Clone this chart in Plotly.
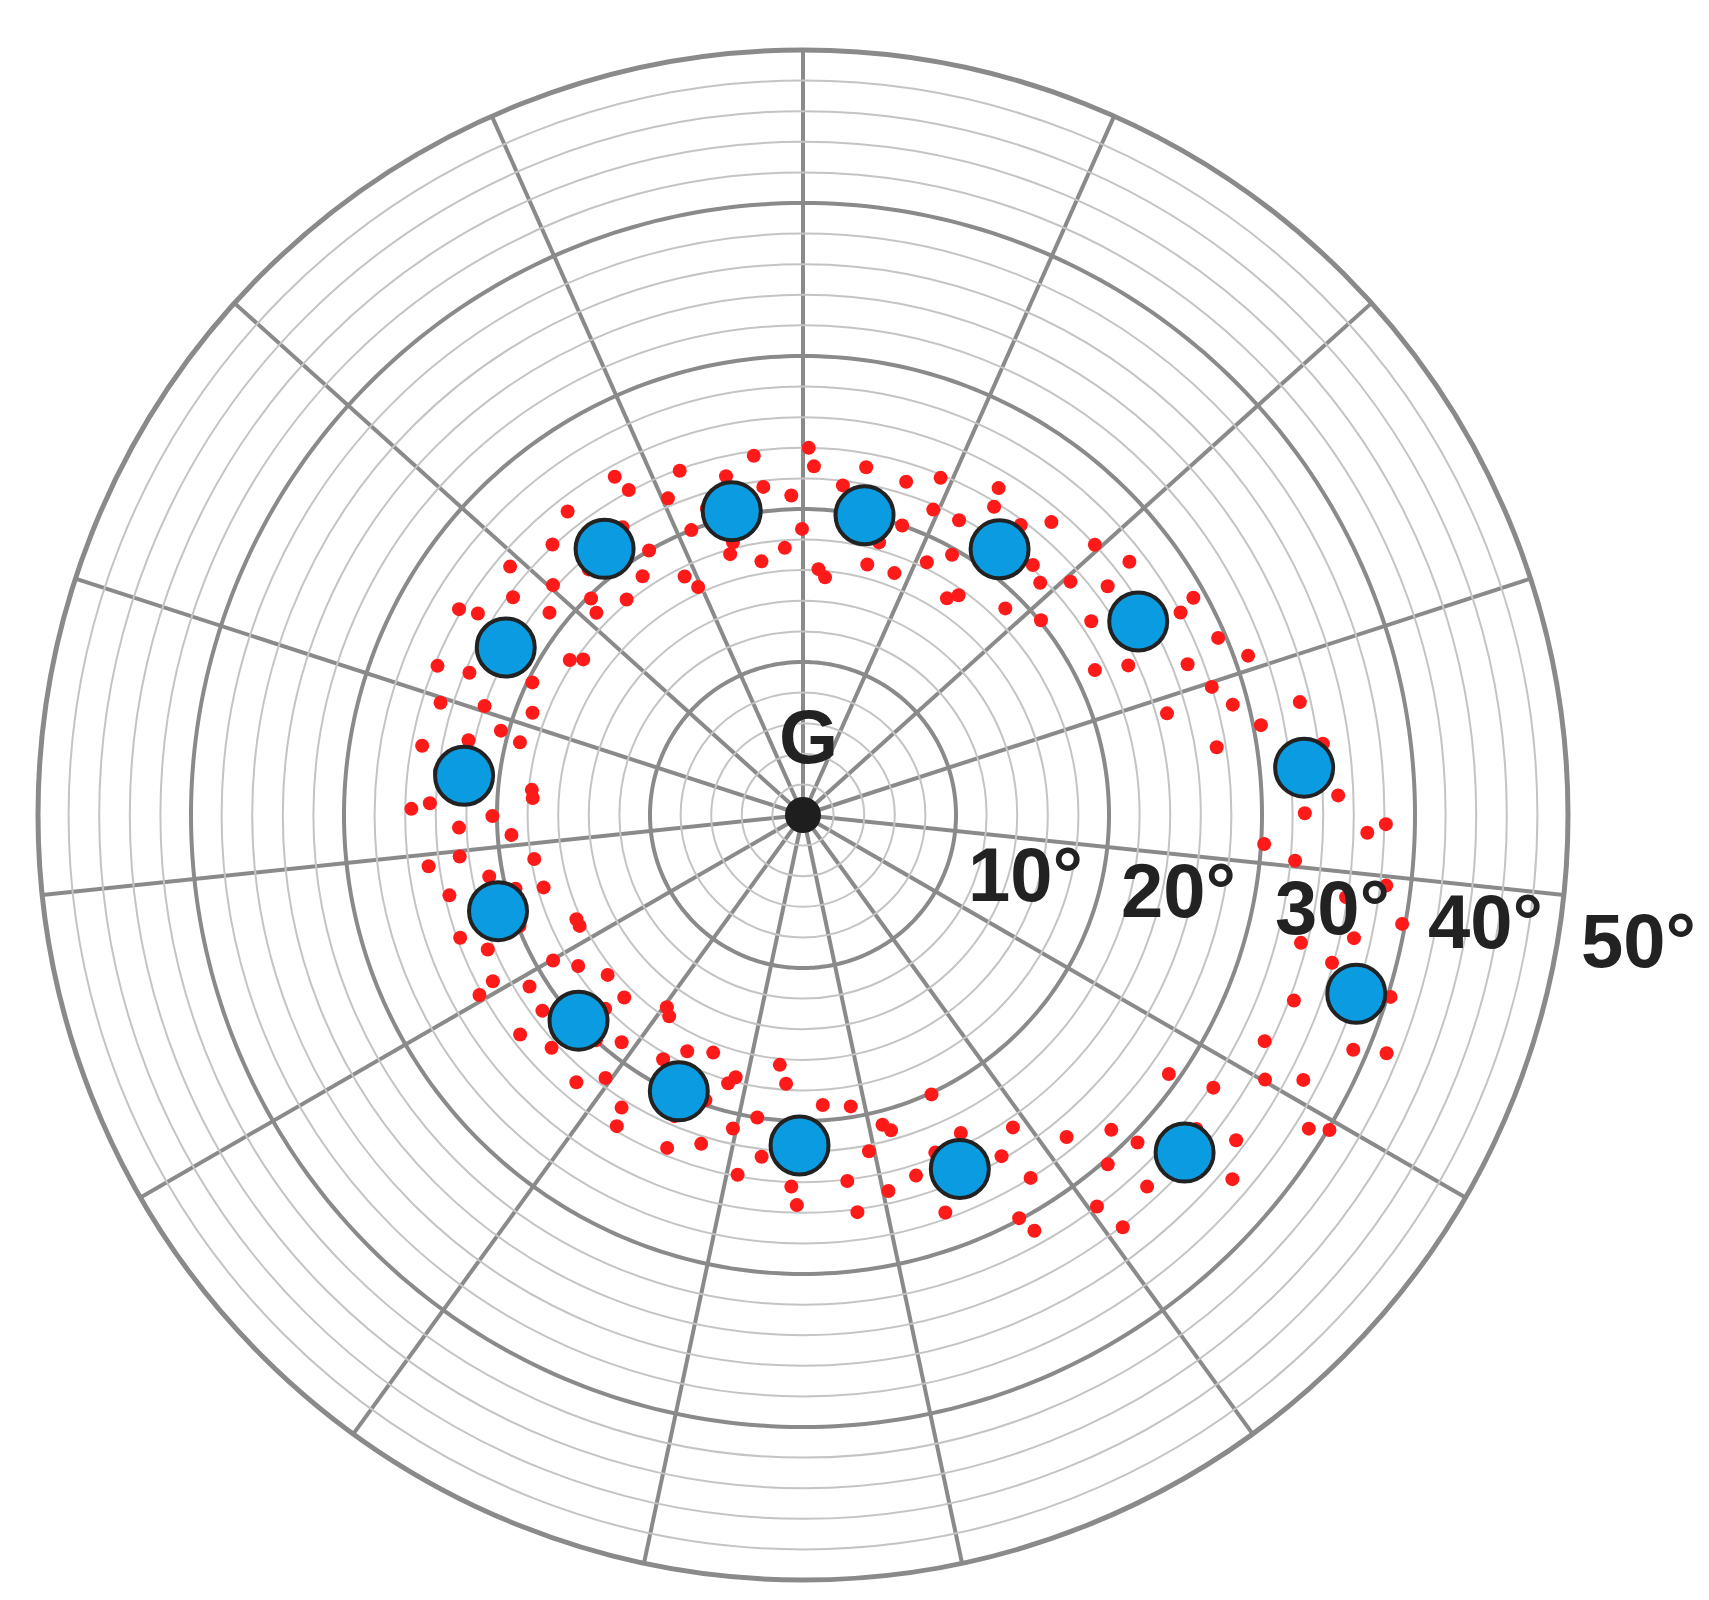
import numpy as np
import plotly.graph_objects as go

# blue mean points (theta in degrees, r in degrees of tilt)
blue_theta = [103.2, 78.4, 53.5, 30.0, 5.4, -17.9, -41.5, -66.1, -90.6, -114.2, -137.5, -162.5, 173.4, 150.6, 126.7]
blue_r = [20.4, 20.0, 21.6, 25.3, 32.9, 38.0, 33.3, 25.3, 21.6, 19.8, 19.9, 20.9, 22.3, 22.3, 21.7]

# red individual readings, row by row going round the ring
red_theta = [
    176.4, 178.2, 180.2, 182.1, 183.9, 179.1,
    165.6, 167.4, 169.7, 171.4, 173.1, 174.7,
    156.9, 159.3, 161.1, 162.8, 164.4, 157.8,
    146.4, 148.2, 150.2, 152.1, 153.9, 149.1,
    135.6, 137.4, 139.7, 141.4, 143.1, 144.7,
    126.9, 129.3, 131.1, 132.8, 134.4, 127.8,
    116.4, 118.2, 120.2, 122.1, 123.9, 119.1,
    105.6, 107.4, 109.7, 111.4, 113.1, 114.7,
    96.9, 99.3, 101.1, 102.8, 104.4, 97.8,
    86.4, 88.2, 90.2, 92.1, 93.9, 89.1,
    75.6, 77.4, 79.7, 81.4, 83.1, 84.7,
    66.9, 69.3, 71.1, 72.8, 74.4, 67.8,
    56.4, 58.2, 60.2, 62.1, 63.9, 59.1,
    45.6, 47.4, 49.7, 51.4, 53.1, 54.7,
    36.9, 39.3, 41.1, 42.8, 44.4, 37.8,
    26.4, 28.2, 30.2, 32.1, 33.9, 29.1,
    15.6, 17.4, 19.7, 21.4, 23.1, 24.7,
    6.9, 9.3, 11.1, 12.8, 14.4, 7.8,
    -3.6, -1.8, 0.2, 2.1, 3.9, -0.9,
    -14.4, -12.6, -10.3, -8.6, -6.9, -5.3,
    -23.1, -20.7, -18.9, -17.2, -15.6, -22.2,
    -33.6, -31.8, -29.8, -27.9, -26.1, -30.9,
    -44.4, -42.6, -40.3, -38.6, -36.9, -35.3,
    -53.1, -50.7, -48.9, -47.2, -45.6, -52.2,
    -63.6, -61.8, -59.8, -57.9, -56.1, -60.9,
    -74.4, -72.6, -70.3, -68.6, -66.9, -65.3,
    -83.1, -80.7, -78.9, -77.2, -75.6, -82.2,
    -93.6, -91.8, -89.8, -87.9, -86.1, -90.9,
    -104.4, -102.6, -100.3, -98.6, -96.9, -95.3,
    -113.1, -110.7, -108.9, -107.2, -105.6, -112.2,
    -123.6, -121.8, -119.8, -117.9, -116.1, -120.9,
    -134.4, -132.6, -130.3, -128.6, -126.9, -125.3,
    -143.1, -140.7, -138.9, -137.2, -135.6, -142.2,
    -153.6, -151.8, -149.8, -147.9, -146.1, -150.9,
    -164.4, -162.6, -160.3, -158.6, -156.9, -155.3,
    -173.1, -170.7, -168.9, -167.2, -165.6, -172.2,
]
red_r = [
    17.7, 24.4, 20.3, 22.5, 19.1, 25.6,
    19.1, 22.4, 25.3, 21.4, 23.9, 17.8,
    23.7, 18.9, 22.0, 24.8, 20.5, 25.8,
    18.3, 25.0, 20.9, 23.1, 19.7, 26.2,
    18.9, 22.2, 25.1, 21.2, 23.7, 17.6,
    23.0, 18.2, 21.3, 24.1, 19.8, 25.1,
    17.4, 24.1, 20.0, 22.2, 18.8, 25.3,
    17.7, 21.0, 23.9, 20.0, 22.5, 16.4,
    21.6, 16.8, 19.9, 22.7, 18.4, 23.7,
    16.1, 22.8, 18.7, 20.9, 17.5, 24.0,
    16.9, 20.2, 23.1, 19.2, 21.7, 15.6,
    21.7, 16.9, 20.0, 22.8, 18.5, 23.8,
    17.0, 23.7, 19.6, 21.8, 18.4, 24.9,
    18.9, 22.2, 25.1, 21.2, 23.7, 17.6,
    24.9, 20.1, 23.2, 26.0, 21.7, 27.0,
    21.3, 28.0, 23.9, 26.1, 22.7, 29.2,
    24.7, 28.0, 30.9, 27.0, 29.5, 23.4,
    32.2, 27.4, 30.5, 33.3, 29.0, 34.3,
    30.2, 36.9, 32.8, 35.0, 31.6, 38.1,
    33.6, 36.9, 39.8, 35.9, 38.4, 32.3,
    39.1, 34.3, 37.4, 40.2, 35.9, 41.2,
    32.2, 38.9, 34.8, 37.0, 33.6, 40.1,
    30.6, 33.9, 36.8, 32.9, 35.4, 29.3,
    32.0, 27.2, 30.3, 33.1, 28.8, 34.1,
    23.2, 29.9, 25.8, 28.0, 24.6, 31.1,
    21.4, 24.7, 27.6, 23.7, 26.2, 20.1,
    24.1, 19.3, 22.4, 25.2, 20.9, 26.2,
    17.6, 24.3, 20.2, 22.4, 19.0, 25.5,
    17.7, 21.0, 23.9, 20.0, 22.5, 16.4,
    21.4, 16.6, 19.7, 22.5, 18.2, 23.5,
    15.8, 22.5, 18.4, 20.6, 17.2, 23.7,
    16.7, 20.0, 22.9, 19.0, 21.5, 15.4,
    21.3, 16.5, 19.6, 22.4, 18.1, 23.4,
    16.3, 23.0, 18.9, 21.1, 17.7, 24.2,
    17.6, 20.9, 23.8, 19.9, 22.4, 16.3,
    22.6, 17.8, 20.9, 23.7, 19.4, 24.7,
]

ring_labels = ["10°", "20°", "30°", "40°", "50°"]
major_rings = [10, 20, 30, 40]
spokes = [(90 - 24 * k) % 360 for k in range(15)]

W, H = 1709, 1600
cx, cy, R = 795, 807, 765

fig = go.Figure()

circle = np.linspace(0, 360, 361)
for rr in major_rings:
    fig.add_trace(go.Scatterpolar(r=[rr] * len(circle), theta=circle, mode="lines",
                                  line=dict(color="#8a8a8a", width=4), hoverinfo="skip"))

fig.add_trace(go.Scatterpolar(r=red_r, theta=red_theta, mode="markers",
                              marker=dict(color="#ff1a1a", size=14)))
fig.add_trace(go.Scatterpolar(r=blue_r, theta=blue_theta, mode="markers",
                              marker=dict(color="#0a9be0", size=58, line=dict(color="#222", width=4))))
fig.add_trace(go.Scatterpolar(r=[0], theta=[0], mode="markers",
                              marker=dict(color="#1e1e1e", size=36)))

fig.update_layout(
    width=W, height=H,
    margin=dict(l=0, r=0, t=0, b=0),
    paper_bgcolor="white",
    showlegend=False,
    polar=dict(
        domain=dict(x=[(cx - R) / W, (cx + R) / W], y=[(H - cy - R) / H, (H - cy + R) / H]),
        bgcolor="white",
        radialaxis=dict(range=[0, 50], dtick=2, showticklabels=False, ticks="",
                        showline=False, gridcolor="#c4c4c4", gridwidth=2),
        angularaxis=dict(tickmode="array", tickvals=spokes, showticklabels=False, ticks="",
                         gridcolor="#8a8a8a", gridwidth=4,
                         linecolor="#8a8a8a", linewidth=5),
    ),
)

# ring labels along a slightly descending line to the right (left edge, middle)
label_px = [(958, 866), (1111, 882), (1265, 899), (1418, 913), (1571, 932)]
for txt, (px_, py_) in zip(ring_labels, label_px):
    fig.add_annotation(x=px_ / W, y=1 - py_ / H, xref="paper", yref="paper",
                       xanchor="left", yanchor="middle",
                       text=f"<b>{txt}</b>", showarrow=False,
                       font=dict(family="Liberation Sans", size=76, color="#222"))
fig.add_annotation(x=800 / W, y=1 - 728 / H, xref="paper", yref="paper",
                   text="<b>G</b>", showarrow=False,
                   font=dict(family="Liberation Sans", size=76, color="#222"))

fig.write_html("out.html")
